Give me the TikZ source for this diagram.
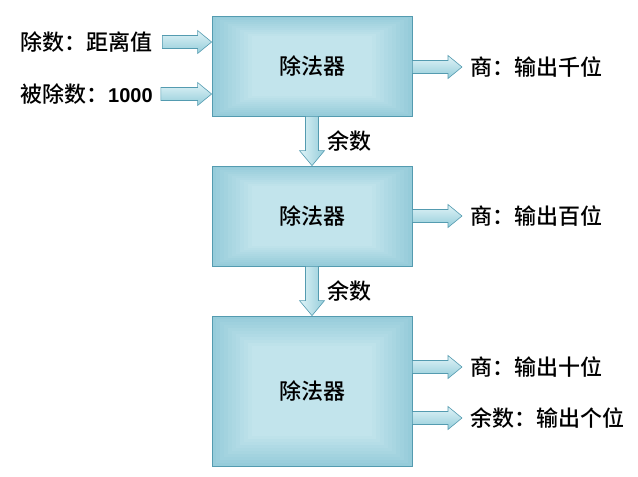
\documentclass[tikz,border=0pt]{standalone}
\usepackage{fontspec}
\setmainfont{Liberation Sans}
\newfontfamily\cjk{Noto Sans CJK SC}[UprightFont={* Medium}]
\usetikzlibrary{calc}
\definecolor{boxline}{RGB}{84,155,176}
\definecolor{boxedge}{RGB}{150,204,218}
\definecolor{boxmid}{RGB}{194,228,236}
\definecolor{arrlight}{RGB}{224,243,247}
\definecolor{arrdark}{RGB}{148,205,218}
\newcommand{\harrow}[2]{%
  \draw[fat,top color=arrlight,bottom color=arrdark] let \p1=#1,\p2=#2 in
    (\x1,\y1+6.5pt)--(\x2-14pt,\y1+6.5pt)--(\x2-14pt,\y1+11.5pt)--(\x2,\y1)
    --(\x2-14pt,\y1-11.5pt)--(\x2-14pt,\y1-6.5pt)--(\x1,\y1-6.5pt)--cycle;}
\newcommand{\varrow}[2]{%
  \draw[fat,left color=arrlight,right color=arrdark] let \p1=#1,\p2=#2 in
    (\x1-6.5pt,\y1)--(\x1-6.5pt,\y2+15pt)--(\x1-12.5pt,\y2+15pt)--(\x1,\y2)
    --(\x1+12.5pt,\y2+15pt)--(\x1+6.5pt,\y2+15pt)--(\x1+6.5pt,\y1)--cycle;}
\begin{document}
\begin{tikzpicture}[x=1pt,y=-1pt,line join=miter,
  box/.style={draw=boxline,line width=.8pt,minimum width=200pt,inner sep=0pt,
    font=\cjk\fontsize{22}{22}\selectfont,
    path picture={
      \foreach \i in {0,...,10}
      {
        \pgfmathsetmacro{\f}{\i*0.02}
        \pgfmathsetmacro{\c}{\i*10}
        \fill[boxmid!\c!boxedge]
          ($(path picture bounding box.south west)!\f!(path picture bounding box.north east)$)
          rectangle
          ($(path picture bounding box.north east)!\f!(path picture bounding box.south west)$);
      }}},
  fat/.style={draw=boxline,line width=.6pt},
  lbl/.style={anchor=west,inner sep=0pt,font=\cjk\fontsize{22}{22}\selectfont}]
\useasboundingbox (0,0) rectangle (638,477);
\node[box,minimum height=100pt] (b1) at (312,66) {除法器};
\node[box,minimum height=100pt] (b2) at (312,216) {除法器};
\node[box,minimum height=150pt] (b3) at (312,391) {除法器};
\node[lbl] (in1) at (20,42) {除数：距离值};
\node[lbl] (in2) at (20,94) {被除数：{\rmfamily\fontsize{20}{20}\selectfont\bfseries 1000}};
\node[lbl] (o1) at (470,67) {商：输出千位};
\node[lbl] (o2) at (470,216) {商：输出百位};
\node[lbl] (o3) at (470,367) {商：输出十位};
\node[lbl] (o4) at (470,418) {余数：输出个位};
\node[lbl] (r1) at (327,141) {余数};
\node[lbl] (r2) at (327,291) {余数};
\harrow{($(in1.east)+(10,0)$)}{(in1.east -| b1.west)}
\harrow{($(in2.east)+(8,0)$)}{(in2.east -| b1.west)}
\harrow{(o1.west -| b1.east)}{($(o1.west)+(-8,0)$)}
\harrow{(o2.west -| b2.east)}{($(o2.west)+(-8,0)$)}
\harrow{(o3.west -| b3.east)}{($(o3.west)+(-8,0)$)}
\harrow{(o4.west -| b3.east)}{($(o4.west)+(-8,0)$)}
\varrow{(b1.south)}{(b2.north)}
\varrow{(b2.south)}{(b3.north)}
\end{tikzpicture}
\end{document}
